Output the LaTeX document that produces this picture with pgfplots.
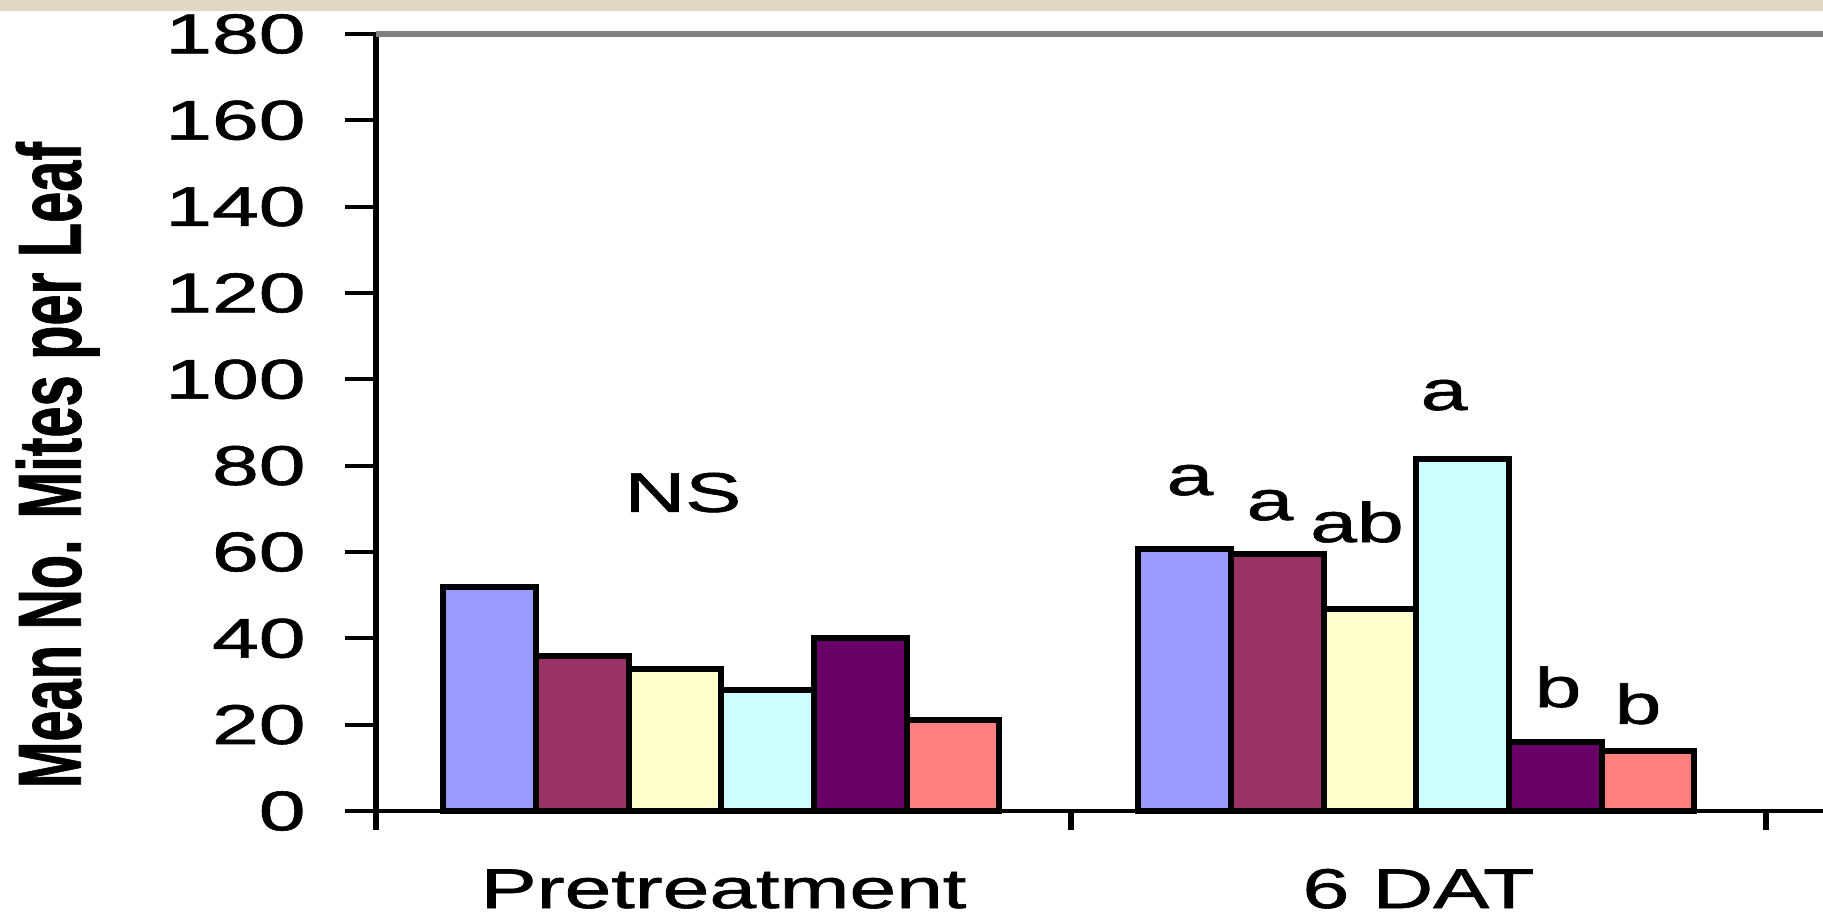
\documentclass[border=0pt]{standalone}
\usepackage{pgfplots}
\pgfplotsset{compat=1.18}
\usepackage{fontspec}
\setmainfont{Liberation Sans}[FakeBold=1]
\newfontfamily\labfont{Liberation Sans}[FakeBold=1]
\newcommand{\SX}[1]{\scalebox{1.5}[1]{#1}}
\definecolor{c1}{HTML}{9999FF}
\definecolor{c2}{HTML}{993366}
\definecolor{c3}{HTML}{FFFFCC}
\definecolor{c4}{HTML}{CCFFFF}
\definecolor{c5}{HTML}{660066}
\definecolor{c6}{HTML}{FF8080}
\definecolor{band}{HTML}{DFD8C3}
\definecolor{topgray}{HTML}{808080}
\begin{document}
\begin{tikzpicture}
\begin{axis}[
  scale only axis, width=723.5pt, height=388.5pt,
  xmin=-0.5, xmax=1.582, ymin=0, ymax=180,
  axis x line*=bottom, axis y line*=left,
  x axis line style={line width=2pt, -},
  y axis line style={line width=3.4pt, -},
  ytick={0,20,40,60,80,100,120,140,160,180},
  yticklabels={\SX{0},\SX{20},\SX{40},\SX{60},\SX{80},\SX{100},\SX{120},\SX{140},\SX{160},\SX{180}},
  xtick={0,1}, xticklabels={\SX{Pretreatment},\SX{6 DAT}},
  tick align=outside, major tick length=15.5pt,
  ytick style={line width=2pt, black},
  xtick style={draw=none},
  ticklabel style={font=\labfont\fontsize{28}{32}\selectfont},
  yticklabel style={anchor=east, inner sep=0pt, xshift=-19.5pt},
  xticklabel style={anchor=base, inner sep=0pt, yshift=-33pt},
  clip=false,
  every axis plot/.append style={ybar, bar width=0.1333, draw=black, line width=3pt, line join=miter},
]
\fill[band] (rel axis cs:-0.2598,1.0296) rectangle (rel axis cs:1,1.04376);
\addplot[fill=c1, bar shift=-0.3363] coordinates {(0,52) (1,60.7)};
\addplot[fill=c2, bar shift=-0.203] coordinates {(0,36) (1,59.6)};
\addplot[fill=c3, bar shift=-0.0697] coordinates {(0,33) (1,46.9)};
\addplot[fill=c4, bar shift=0.0637] coordinates {(0,28) (1,81.5)};
\addplot[fill=c5, bar shift=0.197] coordinates {(0,40) (1,16)};
\addplot[fill=c6, bar shift=0.3303] coordinates {(0,21) (1,14)};
\draw[line width=2.5pt, topgray] (rel axis cs:0,1) -- (rel axis cs:1,1);
\draw[line width=3.4pt] (axis cs:-0.5,0) -- ([yshift=-9.5pt]axis cs:-0.5,0);
\draw[line width=3pt] (axis cs:0.5,0) -- ([yshift=-9.5pt]axis cs:0.5,0);
\draw[line width=3pt] (axis cs:1.5,0) -- ([yshift=-9.5pt]axis cs:1.5,0);
\begin{scope}[every node/.style={anchor=base, inner sep=0pt, font=\labfont\fontsize{28}{32}\selectfont}]
\node at (axis cs:-0.0583,69.3) {\SX{NS}};
\node at (axis cs:0.6712,73.2) {\SX{a}};
\node at (axis cs:0.7863,67.4) {\SX{a}};
\node at (axis cs:0.9115,62.3) {\SX{ab}};
\node at (axis cs:1.0367,92.9) {\SX{a}};
\node at (axis cs:1.2007,24.1) {\SX{b}};
\node at (axis cs:1.3158,20.2) {\SX{b}};
\end{scope}
\node[rotate=90, inner sep=0pt, font=\bfseries\fontsize{28}{32}\selectfont] at (rel axis cs:-0.2200,0.4453) {\scalebox{1}[1.6]{Mean No. Mites per Leaf}};
\coordinate (BL) at (rel axis cs:-0.2598,-0.1390);
\coordinate (TR) at (rel axis cs:1,1.04376);
\end{axis}
\pgfresetboundingbox
\useasboundingbox (BL) rectangle (TR);
\end{tikzpicture}
\end{document}
